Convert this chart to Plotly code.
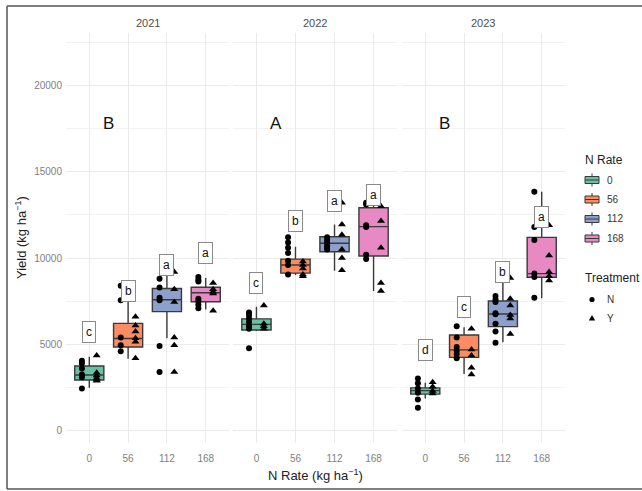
import plotly.graph_objects as go
from plotly.subplots import make_subplots

years = ["2021", "2022", "2023"]
rates = ["0", "56", "112", "168"]
colors = ["#66C2A5", "#FC8D62", "#8DA0CB", "#E78AC3"]
treatments = ["N", "Y"]

# Box statistics (per year, per N rate)
q1_vals = {"2021": [2940, 4850, 6900, 7470],
           "2022": [5830, 9130, 10370, 10120],
           "2023": [2120, 4250, 6030, 8890]}
median_vals = {"2021": [3230, 5340, 7590, 7990],
               "2022": [6160, 9600, 10860, 11820],
               "2023": [2320, 4680, 6760, 9100]}
q3_vals = {"2021": [3750, 6220, 8240, 8310],
           "2022": [6480, 9940, 11240, 12920],
           "2023": [2480, 5540, 7510, 11200]}
lower_whisker = {"2021": [2490, 4170, 5350, 7020],
                 "2022": [5770, 9020, 9270, 8090],
                 "2023": [1860, 3280, 5130, 7670]}
upper_whisker = {"2021": [4290, 7520, 9170, 8850],
                 "2022": [7180, 10660, 11950, 13230],
                 "2023": [2780, 5990, 8750, 13850]}

# Individual observations, Treatment N (circles) and Y (triangles)
obs_N = {
    "2021": [[4050, 3900, 3600, 3250, 3100, 2450],
             [8400, 7550, 5400, 4950, 4600],
             [8800, 8300, 7700, 7550, 4900, 3400],
             [8900, 8750, 8650, 7650, 7500, 7300, 7100]],
    "2022": [[6850, 6700, 6500, 6300, 6050, 5900, 4770],
             [11200, 10900, 10600, 10300, 9850, 9600, 9050],
             [11200, 11050, 10900, 10750, 10600, 10500],
             [13200, 13100, 11900, 11800, 10200, 9950]],
    "2023": [[3030, 2750, 2450, 2200, 1800, 1330],
             [6050, 5400, 4850, 4650, 4450, 4200],
             [7800, 7600, 7450, 6800, 6750, 6200, 5750, 5100],
             [13850, 11800, 11050, 9100, 8900, 7700]],
}
obs_Y = {
    "2021": [[4350, 3350, 3200, 3050, 2950, 2900],
             [6600, 6100, 5750, 5350, 5150, 4200],
             [9200, 8200, 7450, 5400, 4950, 3400],
             [8550, 8200, 8050, 7950, 6950]],
    "2022": [[7250, 6200, 6050, 5900],
             [9800, 9600, 9400, 9050, 8950],
             [13200, 11950, 11350, 10500, 10000, 9300],
             [13000, 12150, 10600, 8550, 8100]],
    "2023": [[2800, 2550, 2300, 2150],
             [5900, 4700, 4350, 3650, 3250],
             [8850, 7650, 7250, 6700, 6500, 5600],
             [11900, 10150, 9200, 8950, 8700]],
}

# Compact letter display
cld_letters = {"2021": ["c", "b", "a", "a"],
               "2022": ["c", "b", "a", "a"],
               "2023": ["d", "c", "b", "a"]}
cld_y = {"2021": [5700, 8100, 9600, 10300],
         "2022": [8540, 12150, 13300, 13660],
         "2023": [4680, 7180, 9210, 12400]}
year_letters = ["B", "A", "B"]
year_letter_y = 17770

FONT = "Liberation Sans, Arial, sans-serif"
GRID = "#EBEBEB"
DODGE = 0.19
W, H = 642, 491
ML, MR, MT, MB = 66, 77, 33, 48
PW, PH = W - ML - MR, H - MT - MB


def px_x(px):
    return (px - ML) / PW


def px_y(py):
    return 1 - (py - MT) / PH


fig = make_subplots(rows=1, cols=3, shared_yaxes=True)

for c, yr in enumerate(years, start=1):
    for i, rate in enumerate(rates):
        fig.add_trace(go.Box(
            x=[i], q1=[q1_vals[yr][i]], median=[median_vals[yr][i]],
            q3=[q3_vals[yr][i]], lowerfence=[lower_whisker[yr][i]],
            upperfence=[upper_whisker[yr][i]],
            width=0.75, whiskerwidth=0, boxpoints=False,
            fillcolor=colors[i], line=dict(color="#3a3a3a", width=1.4),
            name=rate, showlegend=False, hoverinfo="skip"), row=1, col=c)
for c, yr in enumerate(years, start=1):
    for i, rate in enumerate(rates):
        fig.add_trace(go.Scatter(
            x=[i - DODGE] * len(obs_N[yr][i]), y=obs_N[yr][i], mode="markers",
            marker=dict(symbol="circle", size=6, color="black"),
            name="N", showlegend=False, hoverinfo="skip"), row=1, col=c)
        fig.add_trace(go.Scatter(
            x=[i + DODGE] * len(obs_Y[yr][i]), y=obs_Y[yr][i], mode="markers",
            marker=dict(symbol="triangle-up", size=7, color="black"),
            name="Y", showlegend=False, hoverinfo="skip"), row=1, col=c)

annotations = []
for c, yr in enumerate(years, start=1):
    xr = "x" if c == 1 else f"x{c}"
    yr_ref = "y" if c == 1 else f"y{c}"
    for i in range(4):
        annotations.append(dict(
            x=i, y=cld_y[yr][i], xref=xr, yref=yr_ref, text=cld_letters[yr][i],
            showarrow=False, bgcolor="white", bordercolor="#8a8a8a",
            borderwidth=1, borderpad=3,
            font=dict(family=FONT, size=12, color="#111")))
    annotations.append(dict(
        x=0.5, y=year_letter_y, xref=xr, yref=yr_ref, text=year_letters[c - 1],
        showarrow=False, font=dict(family=FONT, size=17, color="#111")))
    annotations.append(dict(
        x=0.5, y=px_y(23), xref=f"{xr} domain", yref="paper", text=yr,
        xanchor="center", yanchor="middle",
        showarrow=False, font=dict(family=FONT, size=11, color="#4D4D4D")))

annotations.append(dict(
    x=px_x(21), y=0.5, xref="paper", yref="paper",
    xanchor="center", yanchor="middle",
    text="Yield (kg ha<sup>−1</sup>)", textangle=-90, showarrow=False,
    font=dict(family=FONT, size=13, color="#222")))
annotations.append(dict(
    x=0.5, y=px_y(475), xref="paper", yref="paper",
    xanchor="center", yanchor="middle",
    text="N Rate (kg ha<sup>−1</sup>)", showarrow=False,
    font=dict(family=FONT, size=13, color="#222")))

frame = dict(color="#555", width=1.5)
shapes = [
    dict(type="line", xref="paper", yref="paper", x0=px_x(7), x1=px_x(7),
         y0=px_y(489), y1=px_y(6), line=frame),
    dict(type="line", xref="paper", yref="paper", x0=px_x(7), x1=px_x(W),
         y0=px_y(6), y1=px_y(6), line=frame),
    dict(type="line", xref="paper", yref="paper", x0=px_x(7), x1=px_x(W),
         y0=px_y(489), y1=px_y(489), line=frame),
]

# Manual legend (ggplot-style)
LX = 583
annotations.append(dict(x=px_x(LX), y=px_y(160), xref="paper", yref="paper",
                        text="N Rate", showarrow=False, xanchor="left",
                        yanchor="middle",
                        font=dict(family=FONT, size=12, color="#222")))
rate_rows = [180, 199.5, 219, 238.5]
for i, rate in enumerate(rates):
    cy = rate_rows[i]
    x0, x1, xc = LX + 2, LX + 16, LX + 9
    shapes.append(dict(type="rect", xref="paper", yref="paper",
                       x0=px_x(x0), x1=px_x(x1), y0=px_y(cy + 3.5),
                       y1=px_y(cy - 3.5), fillcolor=colors[i],
                       line=dict(color="#3a3a3a", width=1)))
    shapes.append(dict(type="line", xref="paper", yref="paper",
                       x0=px_x(x0), x1=px_x(x1), y0=px_y(cy), y1=px_y(cy),
                       line=dict(color="#3a3a3a", width=1)))
    for a, b in [(cy - 3.5, cy - 6.5), (cy + 3.5, cy + 6.5)]:
        shapes.append(dict(type="line", xref="paper", yref="paper",
                           x0=px_x(xc), x1=px_x(xc), y0=px_y(a), y1=px_y(b),
                           line=dict(color="#3a3a3a", width=1)))
    annotations.append(dict(x=px_x(LX + 22), y=px_y(cy), xref="paper",
                            yref="paper", text=rate, showarrow=False,
                            xanchor="left", yanchor="middle",
                            font=dict(family=FONT, size=10, color="#333")))

annotations.append(dict(x=px_x(LX), y=px_y(278), xref="paper", yref="paper",
                        text="Treatment", showarrow=False, xanchor="left",
                        yanchor="middle",
                        font=dict(family=FONT, size=12, color="#222")))
trt_rows = [299.5, 318]
# circle for N
cx, cy = LX + 9, trt_rows[0]
shapes.append(dict(type="circle", xref="paper", yref="paper",
                   x0=px_x(cx - 2.6), x1=px_x(cx + 2.6),
                   y0=px_y(cy + 2.6), y1=px_y(cy - 2.6),
                   fillcolor="black", line=dict(color="black", width=0)))
# triangle for Y
cy = trt_rows[1]
shapes.append(dict(type="path", xref="paper", yref="paper",
                   path=(f"M {px_x(cx - 3.2)} {px_y(cy + 2.6)} "
                         f"L {px_x(cx + 3.2)} {px_y(cy + 2.6)} "
                         f"L {px_x(cx)} {px_y(cy - 3.0)} Z"),
                   fillcolor="black", line=dict(color="black", width=0)))
for t, cy in zip(treatments, trt_rows):
    annotations.append(dict(x=px_x(LX + 22), y=px_y(cy), xref="paper",
                            yref="paper", text=t, showarrow=False,
                            xanchor="left", yanchor="middle",
                            font=dict(family=FONT, size=10, color="#333")))

domains = [[0, 0.3267], [0.3347, 0.6633], [0.6733, 1.0]]
for c in range(1, 4):
    fig.update_xaxes(
        row=1, col=c, domain=domains[c - 1], range=[-0.6, 3.6],
        tickvals=[0, 1, 2, 3], ticktext=rates, showgrid=True, gridcolor=GRID,
        gridwidth=1, zeroline=False, showline=False, ticks="",
        ticklabelstandoff=8,
        tickfont=dict(family=FONT, size=10, color="#7F7F7F"))
    fig.update_yaxes(
        row=1, col=c, range=[-713, 23040], tick0=0, dtick=5000,
        tickformat="d", ticklabelstandoff=3,
        showgrid=True, gridcolor=GRID, gridwidth=1, zeroline=False,
        showline=False, ticks="",
        minor=dict(dtick=2500, tick0=0, showgrid=True, gridcolor="#F2F2F2",
                   gridwidth=0.6),
        tickfont=dict(family=FONT, size=10, color="#7F7F7F"))

fig.update_layout(
    width=W, height=H,
    margin=dict(l=ML, r=MR, t=MT, b=MB),
    plot_bgcolor="white", paper_bgcolor="white",
    font=dict(family=FONT, color="#222"),
    annotations=annotations,
    shapes=shapes,
    showlegend=False,
)

fig.write_html("out.html", config={"displayModeBar": False},
               post_script="document.body.style.margin='0';")
